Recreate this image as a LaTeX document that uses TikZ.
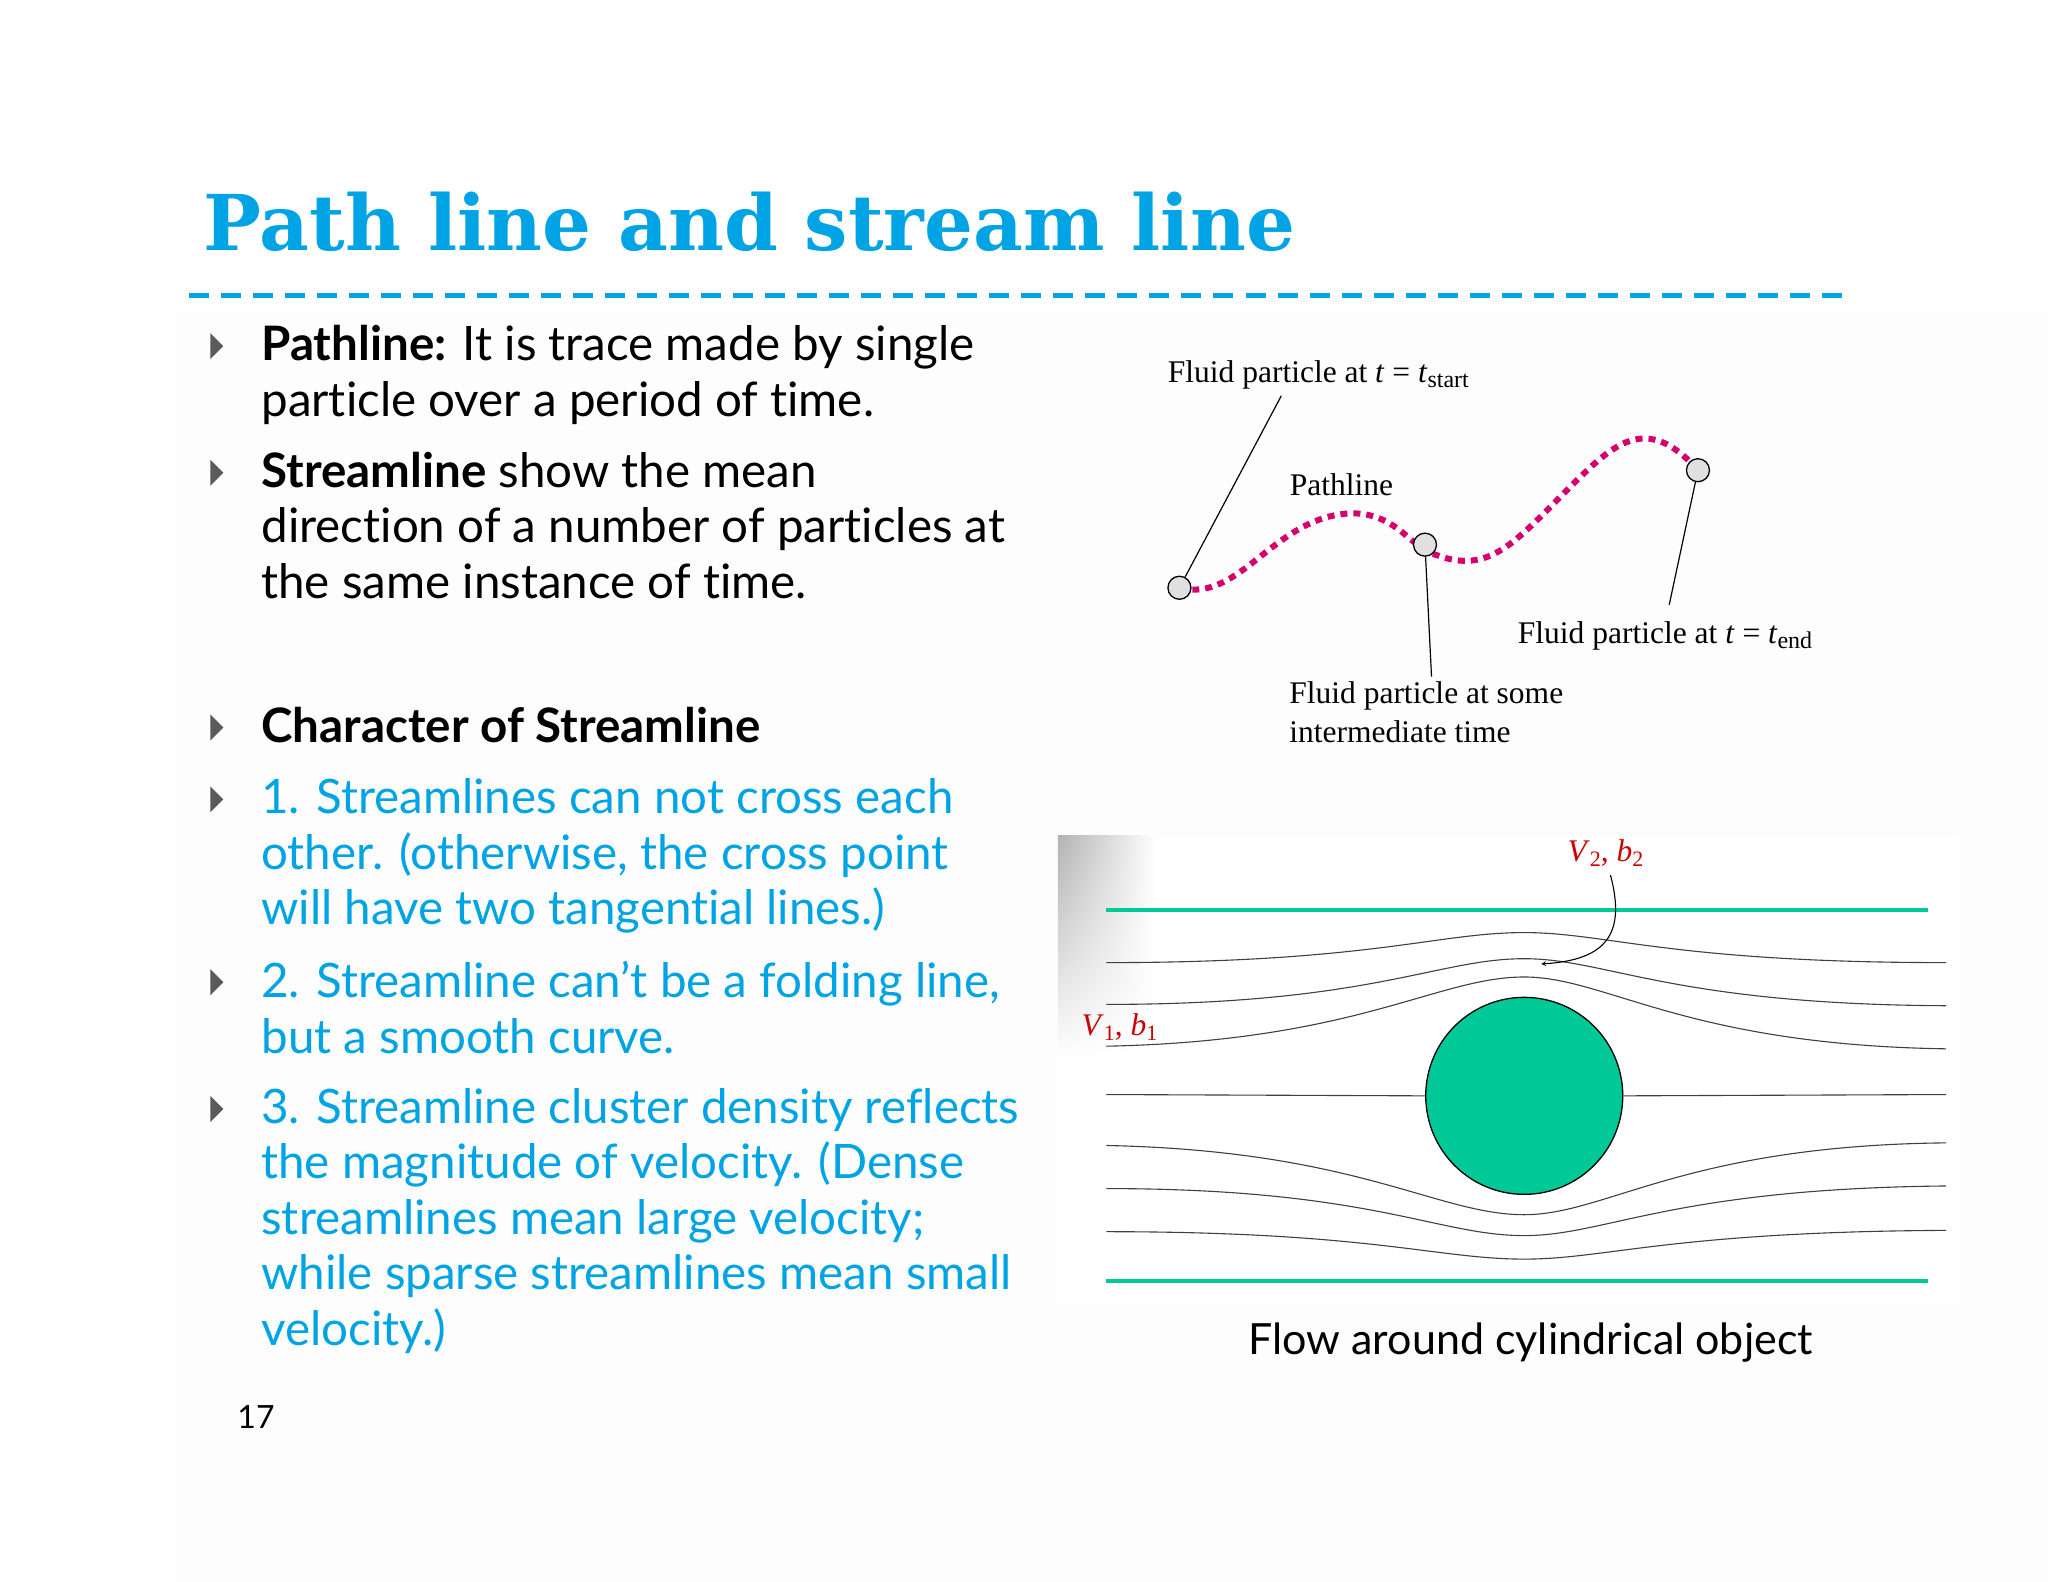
\documentclass[tikz,border=0pt]{standalone}
\usepackage{fontspec}
\usetikzlibrary{shadings}
\setmainfont{Lato}[Ligatures={NoCommon}]
\newfontfamily\titlefont{DejaVu Serif}
\newfontfamily\tms{Liberation Serif}
\definecolor{cy}{RGB}{0,164,228}
\definecolor{grn}{RGB}{0,200,150}
\definecolor{mag}{RGB}{214,0,110}
\definecolor{bul}{RGB}{90,90,90}
\begin{document}
\begin{tikzpicture}[x=1.306pt,y=-1.306pt,
 body/.style={anchor=north west,align=left,inner sep=0,font=\fontsize{47.5}{55.5}\selectfont},
 lbl/.style={inner sep=0,font=\tms\fontsize{31.5}{38}\selectfont},
 bull/.style={fill=bul,inner sep=0},
 sl/.style={line width=1.1pt,black!75},
 part/.style={circle,draw=black,fill=black!12,line width=1.3pt,minimum size=23pt,inner sep=0}]
\useasboundingbox (0,0) rectangle (1568,1211);
\fill[black!0.8] (135,240) rectangle (1568,1211);
\node[anchor=west,inner sep=0,text=cy,font=\titlefont\bfseries\fontsize{77}{80}\selectfont] (title) at (156,170) {Path line and stream line};
\draw[cy,line width=5pt,dash pattern=on 20pt off 12pt] (145,226) coordinate (d1) -- (1410,226) coordinate (d2);
% bullets
\foreach \y in {265,362,557,612,752,849}{
 \fill[bul] (161,\y-10) -- (171,\y) -- (161,\y+10) -- cycle;}
\node[body] (t1) at (200,249) {\textbf{Pathline:} It is trace made by single\\particle over a period of time.};
\node[body] (t2) at (200,346) {\textbf{Streamline} show the mean\\direction of a number of particles at\\the same instance of time.};
\node[body] (t3) at (200,541) {\textbf{Character of Streamline}};
\node[body,text=cy] (t4) at (200,596) {1. Streamlines can not cross each\\other. (otherwise, the cross point\\will have two tangential lines.)};
\node[body,text=cy] (t5) at (200,736) {2. Streamline can't be a folding line,\\but a smooth curve.};
\node[body,text=cy] (t6) at (200,833) {3. Streamline cluster density reflects\\the magnitude of velocity. (Dense\\streamlines mean large velocity;\\while sparse streamlines mean small\\velocity.)};
\node[inner sep=0,font=\fontsize{32}{36}\selectfont] (pg) at (196,1085) {17};
% pathline figure
\draw[mag,line width=6pt,dash pattern=on 7pt off 6pt] (903,450) .. controls (950,462) and (975,395) .. (1035,393) .. controls (1070,393) and (1080,420) .. (1100,425) .. controls (1140,440) and (1160,415) .. (1200,375) .. controls (1235,340) and (1260,315) .. (1300,360);
\node[part] (p1) at (903,450) {};
\node[part] (p2) at (1091,417) {};
\node[part] (p3) at (1300,360) {};
\node[lbl,anchor=west] (l1) at (894,287) {Fluid particle at \textit{t} = \textit{t}\raisebox{-0.35ex}{\fontsize{24}{26}\selectfont start}};
\node[lbl] (l2) at (1027,371) {Pathline};
\node[lbl,anchor=west] (l3) at (1162,487) {Fluid particle at \textit{t} = \textit{t}\raisebox{-0.35ex}{\fontsize{24}{26}\selectfont end}};
\node[lbl,anchor=north west,align=left,font=\tms\fontsize{31.5}{39}\selectfont] (l4) at (987,522) {Fluid particle at some\\intermediate time};
\coordinate (c1) at (981,303);
\coordinate (c2) at (1096,518);
\coordinate (c3) at (1278,463);
\draw[line width=1.2pt] (c1) -- (p1);
\draw[line width=1.2pt] (p2) -- (c2);
\draw[line width=1.2pt] (p3) -- (c3);
% streamline figure
\fill[white] (810,640) rectangle (1500,1000);
\shade[upper left=black!30,upper right=white,lower left=white,lower right=white] (810,640) rectangle (885,810);
\draw[grn,line width=4pt] (847,697) -- (1476,697);
\draw[grn,line width=4pt] (847,981) -- (1476,981);
\node[circle,fill=grn,draw=black,line width=1.3pt,minimum size=197pt,inner sep=0] (cyl) at (1167,839) {};
\draw[sl] (847,737) .. controls (1050,737) and (1100,714) .. (1167,714) .. controls (1230,714) and (1280,737) .. (1490,737);
\draw[sl] (847,769) .. controls (1050,769) and (1100,734) .. (1167,734) .. controls (1230,734) and (1280,769) .. (1490,770);
\draw[sl] (847,801) .. controls (1040,797) and (1100,748) .. (1167,748) .. controls (1230,748) and (1290,800) .. (1490,803);
\draw[sl] (847,838) -- (cyl.west);
\draw[sl] (cyl.east) -- (1490,838);
\draw[sl] (847,877) .. controls (1040,881) and (1100,930) .. (1167,930) .. controls (1230,930) and (1290,877) .. (1490,875);
\draw[sl] (847,910) .. controls (1050,910) and (1100,946) .. (1167,946) .. controls (1230,946) and (1280,910) .. (1490,908);
\draw[sl] (847,943) .. controls (1050,943) and (1100,964) .. (1167,964) .. controls (1230,964) and (1280,943) .. (1490,942);
\node[lbl,text=red!80!black,anchor=west] (v2) at (1200,653) {\textit{V}\raisebox{-0.35ex}{\fontsize{22}{24}\selectfont 2}, \textit{b}\raisebox{-0.35ex}{\fontsize{22}{24}\selectfont 2}};
\node[lbl,text=red!80!black,anchor=west] (v1) at (828,786) {\textit{V}\raisebox{-0.35ex}{\fontsize{22}{24}\selectfont 1}, \textit{b}\raisebox{-0.35ex}{\fontsize{22}{24}\selectfont 1}};
\coordinate (a1) at (1233,670);
\coordinate (a2) at (1180,738);
\draw[line width=1.1pt,-stealth] (a1) .. controls (1245,715) and (1230,735) .. (a2);
\node[inner sep=0,font=\fontsize{43}{46}\selectfont] (cap) at (1172,1028) {Flow around cylindrical object};
\end{tikzpicture}
\end{document}
